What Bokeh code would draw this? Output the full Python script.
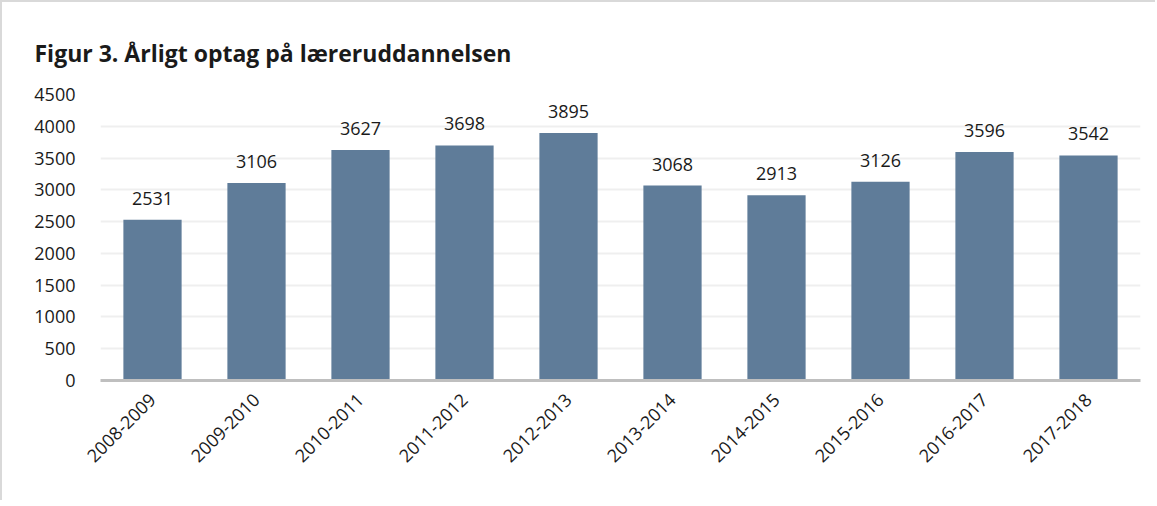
from bokeh.plotting import figure
from bokeh.models import ColumnDataSource, LabelSet, FixedTicker, Range1d
from bokeh.core.properties import value
from bokeh.embed import file_html
from bokeh.resources import INLINE
import math

years = ["2008-2009", "2009-2010", "2010-2011", "2011-2012", "2012-2013",
         "2013-2014", "2014-2015", "2015-2016", "2016-2017", "2017-2018"]
optag = [2531, 3106, 3627, 3698, 3895, 3068, 2913, 3126, 3596, 3542]
y_ticks = [0, 500, 1000, 1500, 2000, 2500, 3000, 3500, 4000, 4500]
title_text = "Figur 3. Årligt optag på læreruddannelsen"

FONT = "Open Sans"

src = ColumnDataSource(dict(x=years, y=optag, lab=[str(v) for v in optag]))

p = figure(x_range=years, y_range=Range1d(0, 4500), width=1155, height=500,
           output_backend="svg", toolbar_location=None,
           min_border_left=98, min_border_right=17, min_border_top=92,
           min_border_bottom=122, title=title_text)
p.styles = {"border-top": "2px solid #d9d9d9", "border-left": "2px solid #d9d9d9"}
p.outline_line_color = None

p.title.text_font = FONT
p.title.text_font_size = "23px"
p.title.text_font_style = "bold"
p.title.text_color = "#1a1a1a"
p.title.align = "left"
p.title.offset = -66
p.title.standoff = 51

p.vbar(x="x", top="y", width=0.56, source=src, fill_color="#5f7c99",
       line_color=None)

labels = LabelSet(x="x", y="y", text="lab", source=src, text_align="center",
                  text_baseline="bottom", y_offset=15, text_font_size="18px",
                  text_font=value(FONT), text_color="#1a1a1a")
p.add_layout(labels)

p.yaxis.ticker = FixedTicker(ticks=y_ticks)
p.yaxis.axis_line_color = None
p.yaxis.major_tick_line_color = None
p.yaxis.minor_tick_line_color = None
p.yaxis.major_label_text_font = FONT
p.yaxis.major_label_text_font_size = "18px"
p.yaxis.major_label_text_color = "#1a1a1a"
p.yaxis.major_label_standoff = 19

p.xaxis.axis_line_color = "#bfbfbf"
p.xaxis.axis_line_width = 3
p.xaxis.major_tick_line_color = None
p.xaxis.minor_tick_line_color = None
p.xaxis.major_label_orientation = math.pi / 4
p.xaxis.major_label_text_font = FONT
p.xaxis.major_label_text_font_size = "18px"
p.xaxis.major_label_text_color = "#1a1a1a"
p.xaxis.major_label_standoff = 10

p.xgrid.grid_line_color = None
p.ygrid.grid_line_color = "#efefef"
p.ygrid.grid_line_width = 2

open("out.html", "w").write(file_html(p, INLINE))
